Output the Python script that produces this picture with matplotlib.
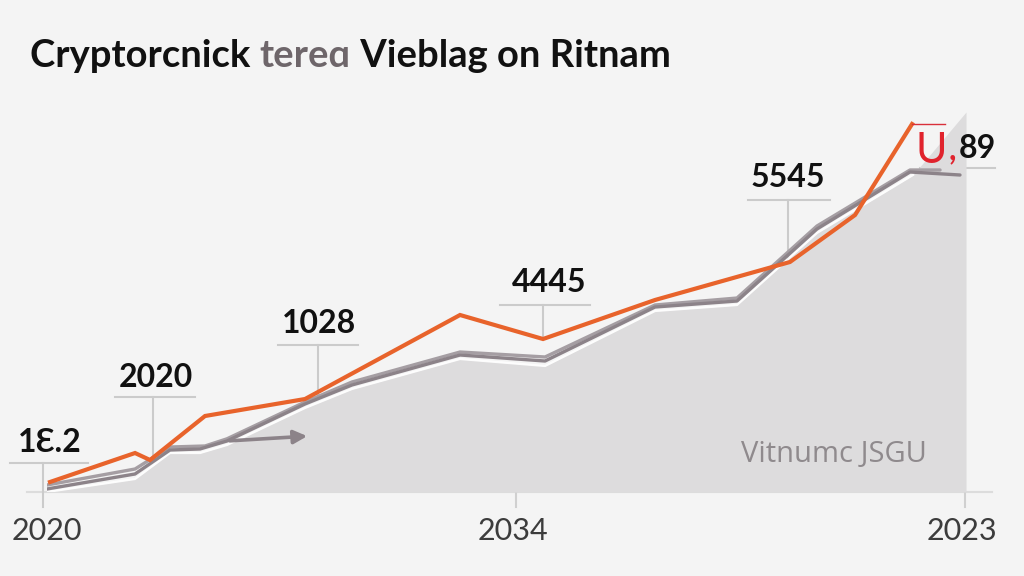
import matplotlib
matplotlib.use("Agg")
import matplotlib.pyplot as plt

# ---------------- data ----------------
orange_x = [0.33, 9.62, 11.26, 17.27, 28.20, 45.14, 54.21, 66.45, 81.20, 88.31, 94.54]
orange_y = [2.63, 10.26, 8.42, 20.00, 24.47, 46.58, 40.26, 50.53, 60.53, 72.89, 96.84]

gray1_x = [0.0, 9.62, 13.44, 16.72, 19.67, 28.20, 33.33, 45.14, 54.43, 66.45, 75.41, 84.15, 94.32, 99.78]
gray1_y = [0.79, 4.74, 11.05, 11.32, 13.42, 23.16, 28.16, 36.05, 34.47, 48.68, 50.26, 69.21, 84.21, 83.42]

gray2_x = [0.0, 9.62, 13.44, 17.27, 19.67, 28.20, 33.33, 45.14, 54.43, 66.45, 75.41, 84.15, 94.32, 97.6]
gray2_y = [1.84, 6.05, 11.84, 12.11, 14.00, 23.68, 28.95, 36.84, 35.53, 49.21, 51.05, 70.00, 84.74, 84.74]

fill_x = [0.0, 9.62, 13.44, 16.72, 19.67, 28.20, 33.33, 45.14, 54.43, 66.45, 75.41, 84.15, 94.64, 100.44]
fill_y = [0.0, 3.42, 10.26, 10.26, 12.37, 22.11, 27.11, 35.00, 33.16, 47.63, 49.21, 68.16, 83.42, 100.0]

arrow_start = (19.67, 13.42)
arrow_end = (28.74, 14.74)

callout_labels = ["1\u0190.2", "2020", "1028", "4445", "5545"]
callout_text_x = [0.33, 11.91, 29.73, 54.86, 80.98]
callout_text_y = [10.53, 27.63, 41.84, 52.63, 80.26]
callout_line_y = [7.63, 25.00, 38.68, 49.21, 76.84]
callout_line_x0 = [-4.04, 7.43, 25.25, 49.51, 76.61]
callout_line_x1 = [4.48, 16.17, 33.99, 59.34, 85.57]
callout_stem_x = [-0.44, 11.58, 29.62, 54.21, 80.98]
callout_stem_bottom = [-3.95, 8.42, 25.00, 40.53, 60.53]

last_label_num = "89"
last_label_prefix = "U"

tick_pos = [0.0, 50.93, 100.0]
tick_labels = ["2020", "2034", "2023"]

title_parts = ["Cryptorcnick ", "tere\u0251", " Vieblag on Ritnam"]
title_colors = ["#111111", "#6e666a", "#111111"]
watermark = "Vitnumc JSGU"

# ---------------- figure ----------------
BG = "#f4f4f4"
fig = plt.figure(figsize=(10.24, 5.76), dpi=100, facecolor=BG)
ax = fig.add_axes([47 / 1024, 84 / 576, 915 / 1024, 380 / 576])
ax.set_facecolor(BG)
ax.set_xlim(0, 100)
ax.set_ylim(0, 100)
ax.axis("off")

NUM_FS = 23
FONT = ["Lato", "DejaVu Sans"]

# baseline
ax.plot([-2.2, 103.3], [0, 0], color="#dcdcdc", lw=1.5, clip_on=False, zorder=1)

# area
ax.fill_between(fill_x + [fill_x[-1]], fill_y + [0.0], 0, color="#dddcdd", lw=0, zorder=2, clip_on=False)
ax.plot(fill_x[:-1], fill_y[:-1], color="white", lw=1.6, zorder=3, alpha=0.9)

# gray lines
ax.plot(gray2_x, gray2_y, color="#a59ea3", lw=2.4, zorder=4, solid_capstyle="round", solid_joinstyle="round")
ax.plot(gray1_x, gray1_y, color="#8c8389", lw=2.4, zorder=5, solid_capstyle="round", solid_joinstyle="round")
ax.annotate("", xy=arrow_end, xytext=arrow_start,
            arrowprops=dict(arrowstyle="-|>,head_length=0.8,head_width=0.4", color="#8c8389", lw=2.6),
            zorder=5)

# orange line
ax.plot(orange_x, orange_y, color="#e8632b", lw=3.0, zorder=6, solid_joinstyle="miter")
ax.plot([orange_x[-1], orange_x[-1] + 3.6], [orange_y[-1], orange_y[-1]], color="#d9303a", lw=1.0, zorder=6)

# callouts
LINE_C = "#cbcbcb"
for lab, tx, ty, ly, x0, x1, sx, sb in zip(callout_labels, callout_text_x, callout_text_y,
                                          callout_line_y, callout_line_x0, callout_line_x1,
                                          callout_stem_x, callout_stem_bottom):
    ax.plot([x0, x1], [ly, ly], color=LINE_C, lw=1.5, clip_on=False, zorder=1)
    ax.plot([sx, sx], [ly, sb], color=LINE_C, lw=1.5, clip_on=False, zorder=1)
    ax.text(tx, ty, lab, ha="center", va="baseline", fontsize=NUM_FS, fontweight="bold",
            family=FONT, color="#111111", clip_on=False, zorder=8)

# last label
ax.plot([95.41, 103.61], [85.26, 85.26], color=LINE_C, lw=1.5, clip_on=False, zorder=1)
ax.text(94.9, 86.6, last_label_prefix, ha="left", va="baseline", fontsize=31, fontweight="normal",
        family=FONT, color="#e0232d", clip_on=False, zorder=8)
ax.text(98.5, 87.6, ",", ha="left", va="baseline", fontsize=NUM_FS, fontweight="bold",
        family=FONT, color="#e0232d", clip_on=False, zorder=8)
ax.text(99.6, 87.9, last_label_num, ha="left", va="baseline", fontsize=NUM_FS, fontweight="bold",
        family=FONT, color="#111111", clip_on=False, zorder=8)

# ticks and tick labels
for tp, tl in zip(tick_pos, tick_labels):
    if tp > 1:
        ax.plot([tp + 0.3, tp + 0.3], [0, -4.0], color="#d0d0d0", lw=1.5, clip_on=False, zorder=1)
    ax.text(tp, -12.6, tl, ha="center", va="baseline", fontsize=22,
            family=FONT, color="#3c3c3c", clip_on=False)

# watermark
ax.text(96.2, 7.9, watermark, ha="right", va="baseline", fontsize=21,
        family=["Open Sans", "DejaVu Sans"], color="#8f8a8d", zorder=7)

# title: scale to the reference width
renderer = fig.canvas.get_renderer()
target_w = 640
size = 24.5
probe = [fig.text(0, 0, p, fontsize=size, fontweight="bold", family=FONT) for p in title_parts]
total = sum(t.get_window_extent(renderer=renderer).width for t in probe)
for t in probe:
    t.remove()
size = min(size * target_w / total, 28)
x = 30 / 1024
y = 1 - 67 / 576
for part, col in zip(title_parts, title_colors):
    t = fig.text(x, y, part, fontsize=size, fontweight="bold", color=col,
                 family=FONT, va="baseline", ha="left")
    bb = t.get_window_extent(renderer=renderer)
    x += bb.width / 1024

fig.savefig("out.png", dpi=100, facecolor=BG)
